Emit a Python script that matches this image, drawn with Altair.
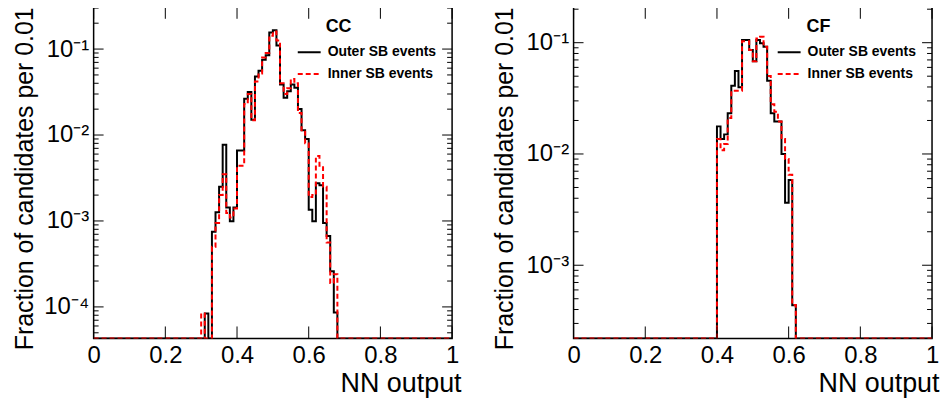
import altair as alt
import pandas as pd

# ---------------- data ----------------
N_BINS = 100
BIN_W = 0.01

series_names = ["Outer SB events", "Inner SB events"]
series_colors = ["#000000", "#ff0000"]
series_dashes = [[1, 0], [5, 3]]
panel_labels = ["CC", "CF"]

# CC panel, first non-empty bin index and bin contents (fraction per 0.01)
cc_outer_first = 31
cc_outer = [8.4e-5, 0, 7.5e-4, 1.26e-3, 2.5e-3, 7.7e-3, 1.43e-3, 9.9e-4, 1.43e-3,
            6.6e-3, 6.6e-3, 0.0265, 0.0316, 0.0151, 0.048, 0.056, 0.075, 0.085,
            0.156, 0.166, 0.11, 0.0387, 0.0272, 0.0324, 0.0386, 0.0355, 0.0201,
            0.0114, 9.0e-3, 1.35e-3, 9.9e-4, 2.75e-3, 2.6e-3, 9.5e-4, 6.7e-4,
            2.6e-4, 8.6e-5]
cc_inner_first = 30
cc_inner = [8.4e-5, 0, 0, 5.0e-4, 9.5e-4, 2.0e-3, 3.5e-3, 1.24e-3, 1.1e-3, 1.4e-3,
            4.4e-3, 4.4e-3, 0.023, 0.030, 0.0149, 0.042, 0.052, 0.08, 0.09,
            0.143, 0.16, 0.126, 0.04, 0.03, 0.035, 0.045, 0.04, 0.018, 0.0114,
            8.0e-3, 1.9e-3, 2.0e-3, 5.7e-3, 4.4e-3, 2.5e-3, 5.6e-4, 1.9e-4, 2.4e-4]

# CF panel
cf_outer_first = 40
cf_outer = [0.0177, 0.0136, 0.0150, 0.0232, 0.041, 0.0557, 0.0398, 0.106, 0.106,
            0.086, 0.068, 0.106, 0.099, 0.092, 0.0455, 0.0232, 0.0196, 0.0196,
            0.0100, 3.64e-3, 5.83e-3, 4.37e-4]
cf_inner_first = 40
cf_inner = [0.0136, 0.0108, 0.0123, 0.021, 0.037, 0.037, 0.037, 0.103, 0.103,
            0.086, 0.068, 0.109, 0.113, 0.092, 0.0503, 0.028, 0.024, 0.0196,
            0.0136, 9.0e-3, 6.5e-3, 4.4e-4]

x_tick_values = [0, 0.2, 0.4, 0.6, 0.8, 1]
decades = [1e-1, 1e-2, 1e-3, 1e-4, 1e-5]
decade_exps = [-1, -2, -3, -4, -5]
cc_y_domain = [4.3e-5, 0.31]
cf_y_domain = [2.2e-4, 0.21]
y_title = "Fraction of candidates per 0.01"
x_title = "NN output"

# ---------------- layout / style ----------------
W, H = 360, 333
FONT = "Liberation Sans"
MAJOR_LEN, MINOR_LEN = 10, 5
SUP = {"-": "\u207b", "0": "\u2070", "1": "\u00b9", "2": "\u00b2", "3": "\u00b3",
       "4": "\u2074", "5": "\u2075", "6": "\u2076"}


def hist_frame(first, values, name, floor):
    full = [0.0] * N_BINS
    for i, v in enumerate(values):
        full[first + i] = v
    rows = []
    for k in range(N_BINS):
        rows.append({"x": round(k * BIN_W, 2), "y": max(full[k], floor), "series": name})
    rows.append({"x": 1.0, "y": max(full[-1], floor), "series": name})
    return pd.DataFrame(rows)


def log_ticks(domain):
    lo, hi = domain
    majors, minors = [], []
    for base in decades:
        if lo <= base <= hi:
            majors.append(base)
        for m in range(2, 10):
            v = m * base
            if lo <= v <= hi:
                minors.append(v)
    return majors, minors


def y_axis(domain):
    majors, _ = log_ticks(domain)
    expr = "''"
    for base, e in zip(decades, decade_exps):
        if base in majors:
            lab = "10" + "".join(SUP[c] for c in str(e))
            expr = f"datum.value == {base!r} ? '{lab}' : " + expr
    return alt.Axis(
        values=majors, labelExpr=expr, labelOverlap=False,
        domain=False, ticks=False, grid=False,
        labelFont=FONT, labelFontSize=24, labelColor="black", labelPadding=5,
        title=y_title, titleFont=FONT, titleFontSize=25, titleFontWeight="normal",
        titleColor="black", titleAnchor="end", titlePadding=0,
        minExtent=56, maxExtent=56,
    )


def x_axis(overhang):
    return alt.Axis(
        values=x_tick_values, format="~g", labelFlush=False, labelOverlap=False,
        domain=False, ticks=False, grid=False,
        labelFont=FONT, labelFontSize=24, labelColor="black", labelPadding=5,
        title=x_title, titleFont=FONT, titleFontSize=27, titleFontWeight="normal",
        titleColor="black", titleAlign="right", titleX=W + overhang, titleY=32,
        titleBaseline="top",
    )


x_scale = alt.Scale(domain=[0, 1], nice=False, zero=False)


def legend():
    return alt.Legend(
        orient="none", legendX=204, legendY=33, title=None,
        labelFont=FONT, labelFontSize=14, labelFontWeight="bold", labelColor="black",
        symbolType="stroke", symbolSize=529, symbolStrokeWidth=2, labelOffset=6,
        rowPadding=2, padding=0,
    )


def panel(first_o, vals_o, first_i, vals_i, domain, label, overhang):
    lo = domain[0]
    y_scale = alt.Scale(type="log", domain=domain, nice=False)
    yax = y_axis(domain)
    X = alt.X("x:Q", scale=x_scale, axis=x_axis(overhang))
    Y = alt.Y("y:Q", scale=y_scale, axis=yax)

    df = pd.concat([hist_frame(first_o, vals_o, series_names[0], lo),
                    hist_frame(first_i, vals_i, series_names[1], lo)], ignore_index=True)
    base = alt.Chart(df).encode(
        x=X, y=Y,
        color=alt.Color("series:N", scale=alt.Scale(domain=series_names, range=series_colors),
                        legend=legend()),
        strokeDash=alt.StrokeDash("series:N", scale=alt.Scale(domain=series_names, range=series_dashes),
                                  legend=legend()),
    )
    outer = base.transform_filter(alt.datum.series == series_names[0]).mark_line(
        interpolate="step-after", strokeWidth=2, clip=True)
    inner = base.transform_filter(alt.datum.series == series_names[1]).mark_line(
        interpolate="step-after", strokeWidth=2, clip=True)

    # inward tick marks on all four sides (values through the scales)
    majors, minors = log_ticks(domain)
    tick_layers = []
    for vals, L in [(majors, MAJOR_LEN), (minors, MINOR_LEN)]:
        tdf = pd.DataFrame({"y": vals})
        for a, b in [(0, L), (W - L, W)]:
            tick_layers.append(alt.Chart(tdf).mark_rule(color="black", strokeWidth=1).encode(
                y=Y, x=alt.value(a), x2=alt.value(b)))
    xdf = pd.DataFrame({"x": x_tick_values})
    for a, b in [(H, H - 12), (0, 12)]:
        tick_layers.append(alt.Chart(xdf).mark_rule(color="black", strokeWidth=1).encode(
            x=X, y=alt.value(a), y2=alt.value(b)))

    txt = alt.Chart(pd.DataFrame({"t": [label]})).mark_text(
        font=FONT, fontSize=18, fontWeight="bold", align="center", baseline="middle", color="black"
    ).encode(text="t:N", x=alt.value(246), y=alt.value(20))
    return alt.layer(outer, inner, *tick_layers, txt).properties(width=W, height=H)


left = panel(cc_outer_first, cc_outer, cc_inner_first, cc_inner, cc_y_domain, panel_labels[0], 9)
right = panel(cf_outer_first, cf_outer, cf_inner_first, cf_inner, cf_y_domain, panel_labels[1], 7)

chart = (
    alt.hconcat(left, right, spacing=30)
    .resolve_scale(x="independent", y="independent", color="independent", strokeDash="independent")
    .properties(padding={"left": 4, "top": -4, "right": 0, "bottom": 0})
    .configure_view(stroke="black", strokeWidth=1.5)
)

chart.save("out.html", embed_options={"renderer": "svg", "actions": False})
